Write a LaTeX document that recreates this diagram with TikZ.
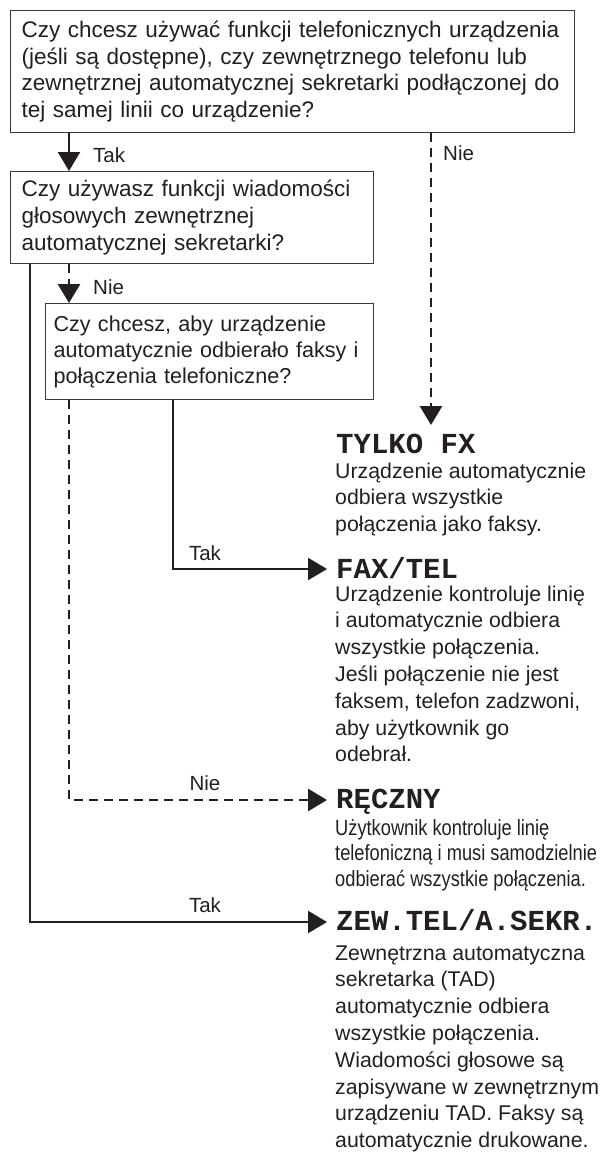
\documentclass[tikz,border=0pt]{standalone}
\usepackage{fontspec}
\setmainfont{Liberation Sans}
\newfontfamily\headfont{Liberation Mono}
\newfontfamily\narrowfont{Liberation Sans}[FakeStretch=0.83]
\usetikzlibrary{arrows.meta}
\definecolor{ink}{HTML}{231F20}
\definecolor{boxgray}{HTML}{3A3A3A}
\tikzset{
  qbox/.style={draw=boxgray, line width=1.2pt, anchor=north west, inner xsep=11pt, inner ysep=0pt,
    align=left, text=ink, font=\fontsize{22.5}{26.6}\selectfont},
  conn/.style={line width=2.5pt, draw=ink, -{Triangle[length=19pt,width=22pt]}},
  dconn/.style={conn, line width=2.9pt, dash pattern=on 9pt off 6pt},
  lbl/.style={font=\fontsize{20.5}{24}\selectfont, inner sep=0pt, text=ink},
  headtxt/.style={font=\headfont\bfseries\fontsize{29}{30}\selectfont, anchor=base west, inner sep=0pt, text=ink},
  desc/.style={anchor=base west, inner sep=0pt, text=ink, font=\fontsize{21.3}{26.8}\selectfont},
  ndesc/.style={anchor=base west, inner sep=0pt, text=ink, font=\narrowfont\fontsize{22}{25.5}\selectfont},
}
\begin{document}
\begin{tikzpicture}[x=1pt,y=-1pt]
\useasboundingbox (0,0) rectangle (600,1153);

% question boxes
\node[qbox, text width=542pt, minimum width=564pt, minimum height=122pt] (q1) at (10,10)
  {Czy chcesz używać funkcji telefonicznych urządzenia\\(jeśli są dostępne), czy zewnętrznego telefonu lub\\zewnętrznej automatycznej sekretarki podłączonej do\\tej samej linii co urządzenie?};
\node[qbox, text width=341pt, minimum width=363pt, minimum height=92pt] (q2) at (10,171)
  {Czy używasz funkcji wiadomości\\głosowych zewnętrznej\\automatycznej sekretarki?};
\node[qbox, inner xsep=8pt, text width=312pt, minimum width=328pt, minimum height=96pt,
  font=\fontsize{21.6}{26}\selectfont] (q3) at (45,303)
  {\mbox{Czy chcesz, aby urządzenie}\\\mbox{automatycznie odbierało faksy i}\\\mbox{połączenia telefoniczne?}};

% results
\node[headtxt] (tylko) at (336,453) {TYLKO FX};
\node[desc] (tylkod) at (335,478) {\begin{tabular}[t]{@{}l@{}}Urządzenie automatycznie\\odbiera wszystkie\\połączenia jako faksy.\end{tabular}};

\node[headtxt] (faxtel) at (336,578) {FAX/TEL};
\node[desc] (faxteld) at (335,601) {\begin{tabular}[t]{@{}l@{}}Urządzenie kontroluje linię\\i automatycznie odbiera\\wszystkie połączenia.\\Jeśli połączenie nie jest\\faksem, telefon zadzwoni,\\aby użytkownik go\\odebrał.\end{tabular}};

\node[headtxt] (reczny) at (336,808) {RĘCZNY};
\node[ndesc] (recznyd) at (335,835) {\begin{tabular}[t]{@{}l@{}}Użytkownik kontroluje linię\\telefoniczną i musi samodzielnie\\odbierać wszystkie połączenia.\end{tabular}};

\node[headtxt] (zew) at (336,930) {ZEW.TEL/A.SEKR.};
\node[desc] (zewd) at (335,960) {\begin{tabular}[t]{@{}l@{}}Zewnętrzna automatyczna\\sekretarka (TAD)\\automatycznie odbiera\\wszystkie połączenia.\\Wiadomości głosowe są\\zapisywane w zewnętrznym\\urządzeniu TAD. Faksy są\\automatycznie drukowane.\end{tabular}};

% labels
\node[lbl, anchor=base west] (t1) at (93,162) {Tak};
\node[lbl, anchor=base west] (n1) at (443,160) {Nie};
\node[lbl, anchor=base west] (n2) at (93,294) {Nie};
\node[lbl, anchor=base] (t2) at (205,560) {Tak};
\node[lbl, anchor=base] (n3) at (205,790) {Nie};
\node[lbl, anchor=base] (t3) at (205,912) {Tak};

% helper coordinates
\coordinate (xA) at (30,0);
\coordinate (xB) at (69,0);
\coordinate (xC) at (173,0);
\coordinate (xD) at (431,0);
\coordinate (tylkoin) at (431,425);
\coordinate (faxin) at (327,569);
\coordinate (recin) at (327,800);
\coordinate (zewin) at (327,922);

% connectors
\draw[conn] (q1.south -| xB) -- (q2.north -| xB);
\draw[dconn] (q1.south -| xD) -- (tylkoin);
\draw[dconn] (q2.south -| xB) -- (q3.north -| xB);
\draw[conn] (q2.south -| xA) |- (zewin);
\draw[conn] (q3.south -| xC) |- (faxin);
\draw[dconn] (q3.south -| xB) |- (recin);
\end{tikzpicture}
\end{document}
